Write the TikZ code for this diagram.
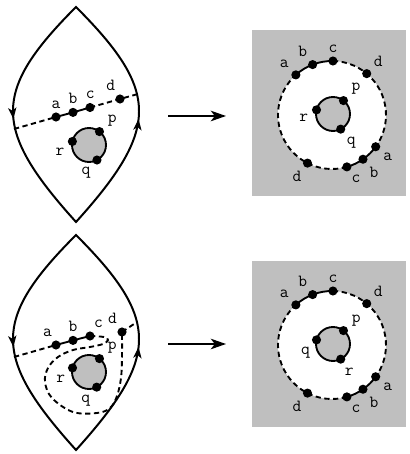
\documentclass[tikz,border=0pt]{standalone}
\usepackage{tikz}
\usetikzlibrary{arrows.meta, decorations.markings}
\tikzstyle{blob} = [circle, fill=black, inner sep=0pt, minimum size=7.8pt, label distance=0pt]
\tikzstyle{every label} = [font=\fontsize{14.5}{16}\selectfont\ttfamily, inner sep=0.3em]
\tikzstyle{lens} = [line width=1.7pt, postaction={decorate}, decoration={markings,
    mark=at position 0.26 with {\arrow{Stealth[length=9.5pt,width=7pt,inset=2.5pt]}},
    mark=at position 0.74 with {\arrow{Stealth[length=9.5pt,width=7pt,inset=2.5pt]}}}]
\tikzstyle{cut} = [line width=1.6pt, dash pattern=on 4.5pt off 3pt]
\tikzstyle{chain} = [line width=1.6pt]
\tikzstyle{ring} = [line width=1.6pt, fill=gray!50]
\tikzstyle{panel} = [fill=gray!50]
\tikzstyle{arrow} = [line width=1.6pt, -{Stealth[length=13pt,width=9pt,inset=3.5pt]}]

\begin{document}
\begin{tikzpicture}[x=0.03cm, y=0.03cm]
\useasboundingbox (0,0) rectangle (409,454);

% Upper lens
\coordinate (top1) at (76,447);
\coordinate (bot1) at (76,232);
\draw [lens] (top1) .. controls (-8,363) and (-8,325) .. (bot1) .. controls (160,325) and (160,363) .. cycle;
\coordinate (disk1) at (89,309);
\draw [ring] (disk1) circle[radius=17];
\coordinate (west1) at (14,325);
\coordinate (east1) at (138,360);
\node (a1) [blob, label=90:a] at (56,337) {};
\node (b1) [blob, label=90:b] at (73,341.6) {};
\node (c1) [blob, label=88:c] at (90,346.5) {};
\node (d1) [blob, label=105:d] at (120,355) {};
\node (p1) [blob, label=17:p] at ([shift={(52:17)}]disk1) {};
\node (r1) [blob, label=210:r] at ([shift={(168:17)}]disk1) {};
\node (q1) [blob, label=232:q] at ([shift={(-62:17)}]disk1) {};
\draw [cut] (west1) -- (a1.center);
\draw [chain] (a1.center) -- (b1.center) -- (c1.center);
\draw [cut] (c1.center) -- (d1.center) -- (east1);

% Lower lens
\coordinate (top2) at (76,219);
\coordinate (bot2) at (76,4);
\draw [lens] (top2) .. controls (-8,135) and (-8,97) .. (bot2) .. controls (160,97) and (160,135) .. cycle;
\coordinate (disk2) at (89,82);
\draw [ring] (disk2) circle[radius=17];
\coordinate (west2) at (14,97);
\coordinate (east2) at (137,132);
\node (a2) [blob, label=95:a] at (56,109) {};
\node (b2) [blob, label=90:b] at (73,113.6) {};
\node (c2) [blob, label=85:c] at (90,118) {};
\node (d2) [blob, label=108:d] at (122,122) {};
\node (p2) [blob, label=14:p] at ([shift={(52:17)}]disk2) {};
\node (r2) [blob, label=222:r] at ([shift={(166:17)}]disk2) {};
\node (q2) [blob, label=234:q] at ([shift={(-63:17)}]disk2) {};
\draw [cut] (west2) -- (a2.center);
\draw [chain] (a2.center) -- (b2.center) -- (c2.center);
\draw [cut] plot[smooth, tension=0.6] coordinates {(c2.center) (104,117) (108,114) (103,110) (90,107) (73,104) (58,97) (48,86) (45,72) (52,56) (73,42) (97,41) (110,46) (117,58) (121,76) (122,97) (d2.center)};
\draw [cut] (d2.center) -- (east2);

% Maps
\coordinate (from1) at (168,338);
\coordinate (to1) at (226,338);
\coordinate (from2) at (168,110);
\coordinate (to2) at (226,110);
\draw [arrow] (from1) -- (to1);
\draw [arrow] (from2) -- (to2);

% Upper image
\fill [panel] (252,258) rectangle (406,424);
\coordinate (hole1) at (332,339);
\coordinate (core1) at (333,340);
\fill [white] (hole1) circle[radius=54];
\draw [ring] (core1) circle[radius=17];
\node (A1) [blob, label=137:a] at ([shift={(132:54)}]hole1) {};
\node (B1) [blob, label=112:b] at ([shift={(111:54)}]hole1) {};
\node (C1) [blob, label=88:c] at ([shift={(89:54)}]hole1) {};
\node (D1) [blob, label=46:d] at ([shift={(50:54)}]hole1) {};
\node (A1x) [blob, label=-34:a] at ([shift={(-36:54)}]hole1) {};
\node (B1x) [blob, label=-53:b] at ([shift={(-55:54)}]hole1) {};
\node (C1x) [blob, label=-79:c] at ([shift={(-74:54)}]hole1) {};
\node (D1x) [blob, label=-119:d] at ([shift={(-117:54)}]hole1) {};
\node (P1) [blob, label=27:p] at ([shift={(52:17)}]core1) {};
\node (R1) [blob, label=190:r] at ([shift={(166:17)}]core1) {};
\node (Q1) [blob, label=-59:q] at ([shift={(-63:17)}]core1) {};
\draw [chain] (A1.center) arc[start angle=132, end angle=89, radius=54];
\draw [cut] (C1.center) arc[start angle=89, end angle=-36, radius=54];
\draw [chain] (A1x.center) arc[start angle=-36, end angle=-74, radius=54];
\draw [cut] (C1x.center) arc[start angle=-74, end angle=-228, radius=54];

% Lower image
\fill [panel] (252,27) rectangle (406,193);
\coordinate (hole2) at (332,109);
\coordinate (core2) at (333,110);
\fill [white] (hole2) circle[radius=54];
\draw [ring] (core2) circle[radius=17];
\node (A2) [blob, label=137:a] at ([shift={(132:54)}]hole2) {};
\node (B2) [blob, label=112:b] at ([shift={(111:54)}]hole2) {};
\node (C2) [blob, label=88:c] at ([shift={(89:54)}]hole2) {};
\node (D2) [blob, label=46:d] at ([shift={(50:54)}]hole2) {};
\node (A2x) [blob, label=-34:a] at ([shift={(-36:54)}]hole2) {};
\node (B2x) [blob, label=-53:b] at ([shift={(-55:54)}]hole2) {};
\node (C2x) [blob, label=-79:c] at ([shift={(-74:54)}]hole2) {};
\node (D2x) [blob, label=-119:d] at ([shift={(-117:54)}]hole2) {};
\node (P2) [blob, label=10:p] at ([shift={(52:17)}]core2) {};
\node (Q2) [blob, label=232:q] at ([shift={(166:17)}]core2) {};
\node (R2) [blob, label=-86:r] at ([shift={(-63:17)}]core2) {};
\draw [chain] (A2.center) arc[start angle=132, end angle=89, radius=54];
\draw [cut] (C2.center) arc[start angle=89, end angle=-36, radius=54];
\draw [chain] (A2x.center) arc[start angle=-36, end angle=-74, radius=54];
\draw [cut] (C2x.center) arc[start angle=-74, end angle=-228, radius=54];

\end{tikzpicture}
\end{document}
